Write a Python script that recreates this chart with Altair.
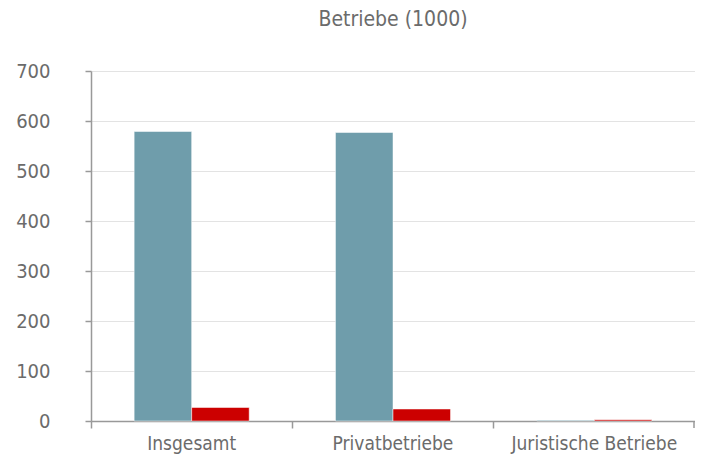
import altair as alt
import pandas as pd

categories = ["Insgesamt", "Privatbetriebe", "Juristische Betriebe"]
series_a = [579, 577, 1.5]
series_b = [27, 24, 2.5]
series_names = ["A", "B"]
colors = ["#6f9dab", "#cc0000"]
y_ticks = [0, 100, 200, 300, 400, 500, 600, 700]

rows = []
for i, c in enumerate(categories):
    rows.append({"cat": c, "series": series_names[0], "value": series_a[i]})
    rows.append({"cat": c, "series": series_names[1], "value": series_b[i]})
df = pd.DataFrame(rows)

FONT = "DejaVu Sans Condensed, Roboto, sans-serif"
GRAY = "#6b6b6b"
W, H = 604, 350

bars = alt.Chart(df).mark_bar(stroke="white", strokeWidth=0.5).encode(
    x=alt.X("cat:N", sort=categories, title=None,
            scale=alt.Scale(paddingInner=0, paddingOuter=0),
            axis=alt.Axis(labelAngle=0, labelFont=FONT, labelFontSize=19,
                          labelColor=GRAY, domainColor="#999999", tickColor="#999999",
                          tickSize=7, labelPadding=6, bandPosition=0, grid=False,
                          domainWidth=1.5, tickWidth=1.5)),
    xOffset=alt.XOffset("series:N", sort=series_names,
                        scale=alt.Scale(paddingInner=0, paddingOuter=0.75)),
    y=alt.Y("value:Q", title=None,
            scale=alt.Scale(domain=[0, 700], nice=False),
            axis=alt.Axis(values=y_ticks, labelFont=FONT, labelFontSize=20,
                          labelColor=GRAY, domainColor="#999999", tickColor="#999999",
                          tickSize=6, labelPadding=35, gridColor="#e3e3e3",
                          domainWidth=1.5, tickWidth=1.5)),
    color=alt.Color("series:N", sort=series_names,
                    scale=alt.Scale(domain=series_names, range=colors), legend=None),
)

end_tick = alt.Chart(pd.DataFrame({"v": [0]})).mark_rule(color="#999999", strokeWidth=1.5).encode(
    x=alt.value(W - 1), y=alt.value(H), y2=alt.value(H + 7)
)

chart = alt.layer(bars, end_tick).properties(
    width=W, height=H,
    title=alt.TitleParams("Betriebe (1000)", font=FONT, fontSize=21, color=GRAY,
                          fontWeight="normal", offset=31, anchor="middle"),
    autosize=alt.AutoSizeParams(type="none"),
    padding={"left": 83, "top": 63, "right": 0, "bottom": 33},
).configure_view(stroke=None)

chart.save("out.html", embed_options={"renderer": "svg", "actions": False})
